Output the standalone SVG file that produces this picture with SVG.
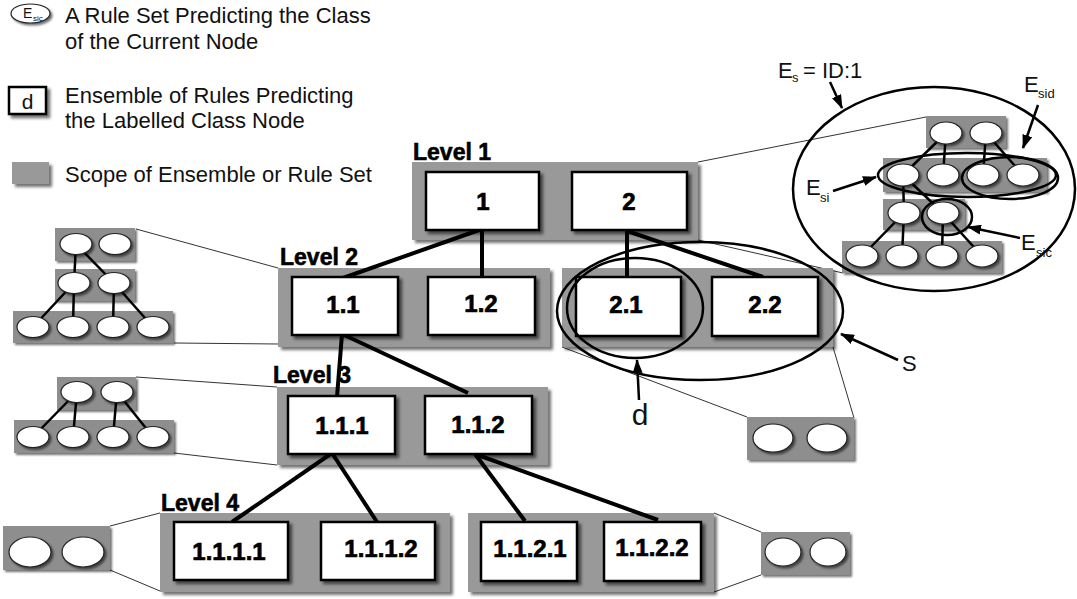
<svg xmlns="http://www.w3.org/2000/svg" width="1077" height="599" viewBox="0 0 1077 599">
  <defs>
    <filter id="shadow" x="-20%" y="-20%" width="150%" height="160%">
      <feDropShadow dx="3" dy="3" stdDeviation="1.4" flood-color="#000" flood-opacity="0.55"/>
    </filter>
    <filter id="softshadow" x="-20%" y="-20%" width="150%" height="160%">
      <feDropShadow dx="2" dy="2" stdDeviation="1" flood-color="#000" flood-opacity="0.55"/>
    </filter>
    <marker id="arrow" viewBox="0 0 14 10" markerWidth="14" markerHeight="10" refX="13" refY="5" orient="auto" markerUnits="userSpaceOnUse">
      <path d="M0,0 L14,5 L0,10 z" fill="#000"/>
    </marker>
    <style>
      .txt { font-family: "Liberation Sans", Arial, sans-serif; fill: #111; }
      .body { font-size: 22px; }
      .lvl { font-size: 23px; font-weight: bold; fill: #000; stroke: #000; stroke-width: 0.6; }
      .lab { font-size: 24px; font-weight: bold; fill: #000; stroke: #000; stroke-width: 0.7; text-anchor: middle; }
      .panel { fill: #999; filter: url(#shadow); }
      .ipanel { fill: #8e8e8e; filter: url(#softshadow); }
      .box { fill: #fff; stroke: #000; stroke-width: 2.5; filter: url(#shadow); }
      .oval { fill: #fff; stroke: #222; stroke-width: 1.2; filter: url(#softshadow); }
      .edge { stroke: #000; stroke-width: 4; fill: none; }
      .iedge { stroke: #000; stroke-width: 2.5; fill: none; }
      .callout { stroke: #333; stroke-width: 1; fill: none; }
      .ring { stroke: #000; stroke-width: 2.5; fill: none; }
      .ptr { stroke: #000; stroke-width: 2.5; fill: none; marker-end: url(#arrow); }
    </style>
  </defs>

  <rect width="1077" height="599" fill="#fff"/>

  <!-- Legend -->
  <g id="legend-ruleset">
    <ellipse cx="30.5" cy="13.5" rx="19.5" ry="9.5" fill="#fff" stroke="#222" stroke-width="1.2" filter="url(#softshadow)"/>
    <text class="txt" x="23" y="18" font-size="14">E</text>
    <text class="txt" x="33" y="21" font-size="8">sic</text>
    <text class="txt body" x="65" y="23">A Rule Set Predicting the Class</text>
    <text class="txt body" x="65" y="49">of the Current Node</text>
  </g>
  <g id="legend-ensemble">
    <rect class="box" x="9" y="87" width="37" height="27"/>
    <text class="txt" x="27.5" y="109" font-size="21" text-anchor="middle">d</text>
    <text class="txt body" x="65" y="103">Ensemble of Rules Predicting</text>
    <text class="txt body" x="65" y="128">the Labelled Class Node</text>
  </g>
  <g id="legend-scope">
    <rect class="panel" x="12" y="162" width="37" height="22"/>
    <text class="txt body" x="65" y="182">Scope of Ensemble or Rule Set</text>
  </g>

  <!-- Callout lines from scopes to their inset rule sets -->
  <g id="callouts">
    <line class="callout" x1="698" y1="162" x2="926" y2="117"/>
    <line class="callout" x1="698" y1="240" x2="843" y2="273"/>
    <line class="callout" x1="136" y1="229" x2="278" y2="268"/>
    <line class="callout" x1="174" y1="343" x2="278" y2="344"/>
    <line class="callout" x1="136" y1="377" x2="277" y2="387"/>
    <line class="callout" x1="174" y1="453" x2="277" y2="465"/>
    <line class="callout" x1="562" y1="347" x2="747" y2="417"/>
    <line class="callout" x1="833" y1="347" x2="854" y2="418"/>
    <line class="callout" x1="110" y1="526" x2="160" y2="513"/>
    <line class="callout" x1="110" y1="570" x2="160" y2="591"/>
    <line class="callout" x1="714" y1="513" x2="761" y2="532"/>
    <line class="callout" x1="714" y1="592" x2="761" y2="575"/>
  </g>

  <!-- Scope panels -->
  <g id="scope-level1"><rect class="panel" x="412" y="162" width="286" height="78"/></g>
  <g id="scope-level2a"><rect class="panel" x="278" y="268" width="272" height="79"/></g>
  <g id="scope-level2b"><rect class="panel" x="562" y="268" width="271" height="79"/></g>
  <g id="scope-level3"><rect class="panel" x="277" y="387" width="271" height="78"/></g>
  <g id="scope-level4a"><rect class="panel" x="160" y="513" width="290" height="79"/></g>
  <g id="scope-level4b"><rect class="panel" x="468" y="513" width="246" height="79"/></g>

  <!-- Level labels -->
  <g id="level-labels">
    <text class="txt lvl" x="413" y="160">Level 1</text>
    <text class="txt lvl" x="280" y="265">Level 2</text>
    <text class="txt lvl" x="273" y="383">Level 3</text>
    <text class="txt lvl" x="161" y="511">Level 4</text>
  </g>

  <!-- Tree connectors -->
  <g id="connectors">
    <line class="edge" x1="482" y1="229" x2="343" y2="278"/>
    <line class="edge" x1="482" y1="229" x2="482" y2="278"/>
    <line class="edge" x1="627" y1="231" x2="627" y2="278"/>
    <line class="edge" x1="627" y1="231" x2="763" y2="277"/>
    <line class="edge" x1="342" y1="334" x2="337" y2="397"/>
    <line class="edge" x1="342" y1="334" x2="468" y2="393"/>
    <line class="edge" x1="332" y1="453" x2="232" y2="522"/>
    <line class="edge" x1="332" y1="453" x2="377" y2="522"/>
    <line class="edge" x1="475" y1="454" x2="525" y2="521"/>
    <line class="edge" x1="475" y1="454" x2="658" y2="520"/>
  </g>

  <!-- Class nodes -->
  <g id="node-1"><rect class="box" x="426" y="172" width="113" height="58"/><text class="txt lab" x="483" y="210">1</text></g>
  <g id="node-2"><rect class="box" x="572" y="172" width="115" height="58"/><text class="txt lab" x="629" y="210">2</text></g>
  <g id="node-1-1"><rect class="box" x="292" y="277" width="106" height="58"/><text class="txt lab" x="343" y="313">1.1</text></g>
  <g id="node-1-2"><rect class="box" x="428" y="277" width="107" height="58"/><text class="txt lab" x="481" y="312">1.2</text></g>
  <g id="node-2-1"><rect class="box" x="576" y="277" width="105" height="59"/><text class="txt lab" x="626" y="313">2.1</text></g>
  <g id="node-2-2"><rect class="box" x="712" y="277" width="106" height="59"/><text class="txt lab" x="765" y="313">2.2</text></g>
  <g id="node-1-1-1"><rect class="box" x="288" y="396" width="107" height="58"/><text class="txt lab" x="342" y="434">1.1.1</text></g>
  <g id="node-1-1-2"><rect class="box" x="425" y="396" width="107" height="58"/><text class="txt lab" x="478" y="433">1.1.2</text></g>
  <g id="node-1-1-1-1"><rect class="box" x="174" y="522" width="114" height="58"/><text class="txt lab" x="229" y="560">1.1.1.1</text></g>
  <g id="node-1-1-1-2"><rect class="box" x="321" y="522" width="114" height="58"/><text class="txt lab" x="381" y="557">1.1.1.2</text></g>
  <g id="node-1-1-2-1"><rect class="box" x="481" y="522" width="96" height="59"/><text class="txt lab" x="530" y="557">1.1.2.1</text></g>
  <g id="node-1-1-2-2"><rect class="box" x="604" y="522" width="97" height="59"/><text class="txt lab" x="652" y="556">1.1.2.2</text></g>

  <!-- Rule-set inset for the Level 2 scope -->
  <g id="inset-level2">
    <rect class="ipanel" x="55" y="228" width="80" height="33"/>
    <rect class="ipanel" x="55" y="269" width="80" height="32"/>
    <rect class="ipanel" x="13" y="311" width="160" height="32"/>
    <line class="iedge" x1="76" y1="244" x2="74" y2="283"/>
    <line class="iedge" x1="76" y1="244" x2="114" y2="283"/>
    <line class="iedge" x1="74" y1="283" x2="33" y2="327"/>
    <line class="iedge" x1="74" y1="283" x2="73" y2="327"/>
    <line class="iedge" x1="114" y1="283" x2="113" y2="327"/>
    <line class="iedge" x1="114" y1="283" x2="153" y2="327"/>
    <ellipse class="oval" cx="76" cy="244" rx="16" ry="10.5"/>
    <ellipse class="oval" cx="115" cy="244" rx="16" ry="10.5"/>
    <ellipse class="oval" cx="74" cy="283" rx="16" ry="10.5"/>
    <ellipse class="oval" cx="114" cy="283" rx="16" ry="10.5"/>
    <ellipse class="oval" cx="33" cy="327" rx="16" ry="10.5"/>
    <ellipse class="oval" cx="73" cy="327" rx="16" ry="10.5"/>
    <ellipse class="oval" cx="113" cy="327" rx="16" ry="10.5"/>
    <ellipse class="oval" cx="153" cy="327" rx="16" ry="10.5"/>
  </g>

  <!-- Rule-set inset for the Level 3 scope -->
  <g id="inset-level3">
    <rect class="ipanel" x="57" y="377" width="79" height="33"/>
    <rect class="ipanel" x="14" y="420" width="160" height="33"/>
    <line class="iedge" x1="77" y1="392" x2="33" y2="437"/>
    <line class="iedge" x1="77" y1="392" x2="73" y2="437"/>
    <line class="iedge" x1="117" y1="392" x2="113" y2="437"/>
    <line class="iedge" x1="117" y1="392" x2="153" y2="437"/>
    <ellipse class="oval" cx="77" cy="392" rx="16" ry="10.5"/>
    <ellipse class="oval" cx="117" cy="392" rx="16" ry="10.5"/>
    <ellipse class="oval" cx="33" cy="437" rx="16" ry="10.5"/>
    <ellipse class="oval" cx="73" cy="437" rx="16" ry="10.5"/>
    <ellipse class="oval" cx="113" cy="437" rx="16" ry="10.5"/>
    <ellipse class="oval" cx="153" cy="437" rx="16" ry="10.5"/>
  </g>

  <!-- Two-rule insets -->
  <g id="inset-level2b">
    <rect class="ipanel" x="747" y="417" width="107" height="43"/>
    <ellipse class="oval" cx="773" cy="438" rx="20" ry="14"/>
    <ellipse class="oval" cx="827" cy="438" rx="20" ry="14"/>
  </g>
  <g id="inset-level4a">
    <rect class="ipanel" x="3" y="526" width="107" height="44"/>
    <ellipse class="oval" cx="30" cy="552" rx="21" ry="15"/>
    <ellipse class="oval" cx="83" cy="552" rx="21" ry="15"/>
  </g>
  <g id="inset-level4b">
    <rect class="ipanel" x="761" y="532" width="89" height="43"/>
    <ellipse class="oval" cx="783" cy="552" rx="18" ry="14"/>
    <ellipse class="oval" cx="828" cy="552" rx="18" ry="14"/>
  </g>

  <!-- Rule-set inset for the Level 1 scope -->
  <g id="inset-level1">
    <rect class="ipanel" x="926" y="116" width="80" height="32"/>
    <rect class="ipanel" x="883" y="158" width="164" height="34"/>
    <rect class="ipanel" x="883" y="199" width="82" height="31"/>
    <rect class="ipanel" x="842" y="241" width="160" height="32"/>
    <line class="iedge" x1="946" y1="133" x2="903" y2="175"/>
    <line class="iedge" x1="946" y1="133" x2="943" y2="175"/>
    <line class="iedge" x1="986" y1="133" x2="983" y2="175"/>
    <line class="iedge" x1="986" y1="133" x2="1023" y2="175"/>
    <line class="iedge" x1="903" y1="175" x2="904" y2="213"/>
    <line class="iedge" x1="903" y1="175" x2="943" y2="213"/>
    <line class="iedge" x1="904" y1="213" x2="862" y2="256"/>
    <line class="iedge" x1="904" y1="213" x2="902" y2="256"/>
    <line class="iedge" x1="943" y1="213" x2="942" y2="256"/>
    <line class="iedge" x1="943" y1="213" x2="982" y2="256"/>
    <ellipse class="oval" cx="946" cy="133" rx="16" ry="11"/>
    <ellipse class="oval" cx="986" cy="133" rx="16" ry="11"/>
    <ellipse class="oval" cx="903" cy="175" rx="16" ry="11"/>
    <ellipse class="oval" cx="943" cy="175" rx="16" ry="11"/>
    <ellipse class="oval" cx="983" cy="175" rx="16" ry="11"/>
    <ellipse class="oval" cx="1023" cy="175" rx="16" ry="11"/>
    <ellipse class="oval" cx="904" cy="213" rx="16" ry="11"/>
    <ellipse class="oval" cx="943" cy="213" rx="16" ry="11"/>
    <ellipse class="oval" cx="862" cy="256" rx="16" ry="11"/>
    <ellipse class="oval" cx="902" cy="256" rx="16" ry="11"/>
    <ellipse class="oval" cx="942" cy="256" rx="16" ry="11"/>
    <ellipse class="oval" cx="982" cy="256" rx="16" ry="11"/>
    <!-- rule-set groupings -->
    <ellipse class="ring" cx="967" cy="175" rx="89" ry="22"/>
    <ellipse class="ring" cx="1010" cy="178" rx="48" ry="21"/>
    <ellipse class="ring" cx="947" cy="217" rx="25" ry="18"/>
    <ellipse class="ring" cx="934" cy="189" rx="141" ry="102"/>
  </g>

  <!-- Ensemble groupings over Level 2 -->
  <g id="ring-d"><ellipse class="ring" cx="635" cy="308" rx="68" ry="50"/></g>
  <g id="ring-s"><ellipse class="ring" cx="700" cy="311" rx="143" ry="69"/></g>

  <!-- Annotations -->
  <g id="label-d">
    <text class="txt" x="640" y="425" font-size="30" text-anchor="middle">d</text>
    <line class="ptr" x1="639" y1="400" x2="637" y2="360"/>
  </g>
  <g id="label-s">
    <text class="txt" x="902" y="371" font-size="22">S</text>
    <line class="ptr" x1="898" y1="360" x2="841" y2="334"/>
  </g>
  <g id="label-es">
    <text class="txt" x="778" y="78" font-size="22">E</text>
    <text class="txt" x="792" y="82" font-size="13">s</text>
    <text class="txt" x="803" y="78" font-size="22">= ID:1</text>
    <line class="ptr" x1="830" y1="82" x2="842" y2="108"/>
  </g>
  <g id="label-esid">
    <text class="txt" x="1024" y="92" font-size="22">E</text>
    <text class="txt" x="1038" y="98" font-size="13">sid</text>
    <line class="ptr" x1="1038" y1="105" x2="1023" y2="148"/>
  </g>
  <g id="label-esi">
    <text class="txt" x="806" y="195" font-size="22">E</text>
    <text class="txt" x="820" y="202" font-size="13">si</text>
    <line class="ptr" x1="833" y1="191" x2="876" y2="177"/>
  </g>
  <g id="label-esic">
    <text class="txt" x="1021" y="250" font-size="22">E</text>
    <text class="txt" x="1036" y="257" font-size="13">sic</text>
    <line class="ptr" x1="1020" y1="238" x2="968" y2="227"/>
  </g>
</svg>
